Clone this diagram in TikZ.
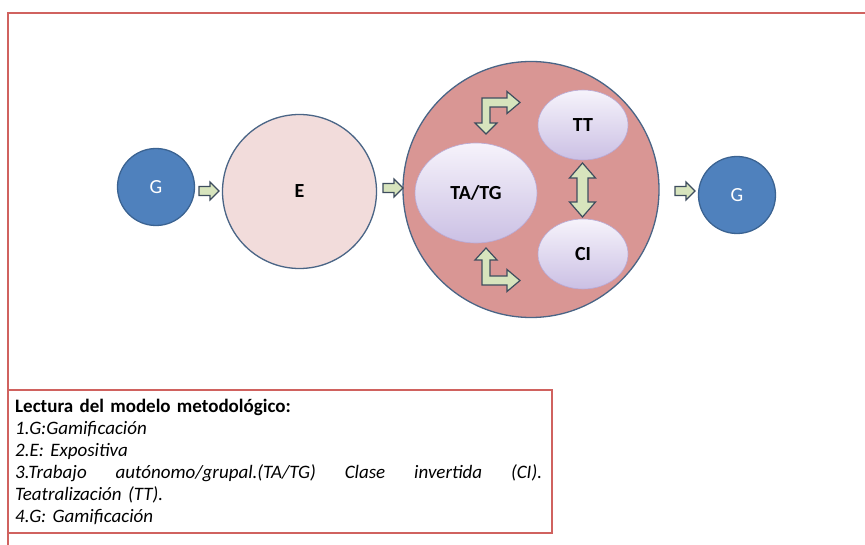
\documentclass[tikz,border=0pt]{standalone}
\usepackage{fontspec}
\setmainfont{Carlito}
\usetikzlibrary{shapes.geometric}
\definecolor{frame}{HTML}{D0625F}
\definecolor{gblue}{HTML}{4F81BD}
\definecolor{gedge}{HTML}{3B6392}
\definecolor{epink}{HTML}{F2DCDB}
\definecolor{rose}{HTML}{D99694}
\definecolor{slate}{HTML}{4A6586}
\definecolor{arrfill}{HTML}{D7E4BD}
\definecolor{arredge}{HTML}{3E4D5E}
\definecolor{lavtop}{HTML}{F6F3FB}
\definecolor{lavbot}{HTML}{CBC0E4}
\definecolor{lavedge}{HTML}{B8AAD6}
\tikzset{
  gnode/.style={circle,fill=gblue,draw=gedge,line width=1.3pt,minimum size=77pt,inner sep=0pt,text=white,font=\fontsize{20}{22}\selectfont},
  enode/.style={circle,fill=epink,draw=slate,line width=1.3pt,minimum size=154pt,inner sep=0pt,font=\bfseries\fontsize{20}{22}\selectfont},
  bignode/.style={circle,fill=rose,draw=slate,line width=1.3pt,minimum size=256pt,inner sep=0pt},
  inner/.style={ellipse,top color=lavtop,bottom color=lavbot,draw=lavedge,line width=0.6pt,inner sep=0pt,font=\bfseries\fontsize{20}{22}\selectfont},
  blockarr/.style={fill=arrfill,draw=arredge,line width=1.2pt,line join=miter},
  framebox/.style={draw=frame,line width=1.8pt},
  harr/.pic={\draw[blockarr] (-10,-4.5) -- (1,-4.5) -- (1,-9) -- (10,0) -- (1,9) -- (1,4.5) -- (-10,4.5) -- cycle;},
  varr/.pic={\draw[blockarr] (0,-27) -- (13,-12) -- (5.5,-12) -- (5.5,12) -- (13,12) -- (0,27) -- (-13,12) -- (-5.5,12) -- (-5.5,-12) -- (-13,-12) -- cycle;}
}
\begin{document}
\begin{tikzpicture}[x=1pt,y=-1pt]
\useasboundingbox (0,0) rectangle (865,545);
\fill[white] (0,0) rectangle (865,545);
% outer frame (right and bottom sides lie outside the page)
\draw[framebox] (8,13) rectangle (875,560);
% nodes
\node[gnode] (g1) at (156,187) {G};
\node[enode] (e) at (299.5,191.5) {E};
\node[bignode] (big) at (531,189.5) {};
\node[inner,minimum width=122pt,minimum height=100pt] (tatg) at (476,193) {TA/TG};
\node[inner,minimum width=90pt,minimum height=70pt] (tt) at (583,125) {TT};
\node[inner,minimum width=90pt,minimum height=70pt] (ci) at (583,254) {CI};
\node[gnode] (g2) at (737,195) {G};
% block arrows
\pic at (209,191) {harr};
\pic at (393,188) {harr};
\pic at (685,191) {harr};
\pic at (582.5,190) {varr};
\draw[blockarr] (486,134) -- (497,123) -- (490,123) -- (490,107) -- (507,107) -- (507,113.5) -- (520,102.5) -- (507,91.5) -- (507,98) -- (482,98) -- (482,123) -- (475,123) -- cycle;
\draw[blockarr] (486,248) -- (497,260) -- (490,260) -- (490,276) -- (507,276) -- (507,269.5) -- (520,280.5) -- (507,291.5) -- (507,285) -- (482,285) -- (482,260) -- (475,260) -- cycle;
% legend
\draw[framebox] (8,390) rectangle (552,533);
\node[anchor=north west,inner sep=0pt,text width=527pt,align=left,font=\fontsize{19}{22}\selectfont] (legend) at (15,399)
{\textbf{Lectura del modelo metodológico:}\\
\textit{1.G:Gamificación}\\
\textit{2.E: Expositiva}\\
\leavevmode\hbox to 527pt{\itshape 3.Trabajo\hfill autónomo/grupal.(TA/TG)\hfill Clase\hfill invertida\hfill (CI).}\\
\textit{Teatralización (TT).}\\
\textit{4.G: Gamificación}};
\end{tikzpicture}
\end{document}
